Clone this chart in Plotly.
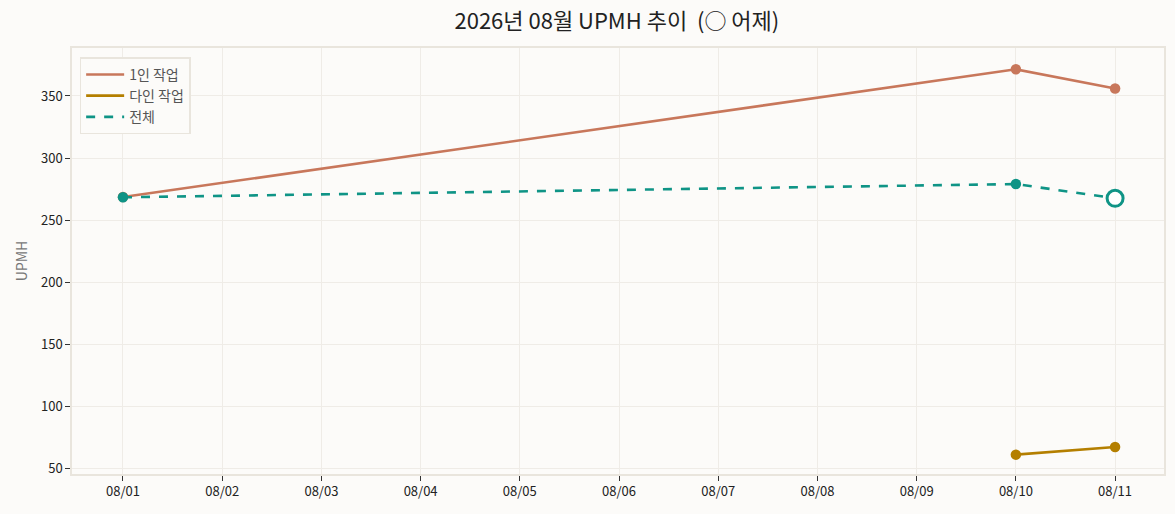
import plotly.graph_objects as go

dates_single = ["2026-08-01", "2026-08-10", "2026-08-11"]
upmh_single = [268.5, 371.5, 356.0]
dates_multi = ["2026-08-10", "2026-08-11"]
upmh_multi = [60.8, 67.0]
dates_total = ["2026-08-01", "2026-08-10", "2026-08-11"]
upmh_total = [268.3, 279.0, 267.5]
yesterday_date = ["2026-08-11"]
yesterday_value = [267.5]

tick_vals = ["2026-08-%02d" % d for d in range(1, 12)]
tick_text = ["08/%02d" % d for d in range(1, 12)]

BG = "#fcfbf9"
FRAME = "#e9e5dd"
GRID = "#efece7"
C1 = "#c8775b"
C2 = "#b47f00"
C3 = "#0f9486"
FONT = "Noto Sans CJK KR"

series = [
    ("1인 작업", dates_single, upmh_single, C1, "solid"),
    ("다인 작업", dates_multi, upmh_multi, C2, "solid"),
    ("전체", dates_total, upmh_total, C3, "dash"),
]

fig = go.Figure()
for name, xs, ys, col, dash in series:
    fig.add_trace(go.Scatter(x=xs, y=ys, name=name, mode="lines",
                             line=dict(color=col, width=2.6, dash=dash)))
for name, xs, ys, col, dash in series:
    fig.add_trace(go.Scatter(x=xs, y=ys, mode="markers", showlegend=False,
                             marker=dict(size=10.5, color=col)))
fig.add_trace(go.Scatter(x=yesterday_date, y=yesterday_value, mode="markers", showlegend=False,
                         marker=dict(size=16, color="white", line=dict(color=C3, width=3))))

fig.update_layout(
    width=1175, height=514,
    paper_bgcolor=BG, plot_bgcolor=BG,
    margin=dict(l=72, r=9, t=48, b=40),
    font=dict(family=FONT, size=13, color="#222222"),
    title=dict(text="2026년 08월 UPMH 추이&nbsp;&nbsp;(○ 어제)", x=0.525, xanchor="center", y=0.958, yanchor="middle",
               font=dict(size=22, color="#222222", family=FONT)),
    legend=dict(x=0.007, y=0.978, xanchor="left", yanchor="top", bgcolor=BG,
                bordercolor=FRAME, borderwidth=1.5, font=dict(size=14, color="#555555"),
                tracegroupgap=0, itemwidth=38),
    showlegend=True,
)
fig.update_xaxes(type="date", range=["2026-07-31 11:40", "2026-08-11 11:50"],
                 tickvals=tick_vals, ticktext=tick_text,
                 showgrid=True, gridcolor=GRID, gridwidth=1,
                 showline=True, linecolor=FRAME, linewidth=1.5, mirror=True,
                 ticks="outside", ticklen=5, tickcolor="#333333", tickwidth=1.2,
                 tickfont=dict(size=13, color="#222222"), zeroline=False)
fig.update_yaxes(range=[45.2, 388.7], tickvals=[50, 100, 150, 200, 250, 300, 350],
                 showgrid=True, gridcolor=GRID, gridwidth=1,
                 showline=True, linecolor=FRAME, linewidth=1.5, mirror=True,
                 ticks="outside", ticklen=5, tickcolor="#333333", tickwidth=1.2,
                 tickfont=dict(size=13, color="#222222"), zeroline=False,
                 title=dict(text="UPMH", font=dict(size=14, color="#777777"), standoff=10))

fig.write_html("out.html", config={"displayModeBar": False},
               post_script="document.body.style.margin='0';document.body.style.background='%s';" % BG)
